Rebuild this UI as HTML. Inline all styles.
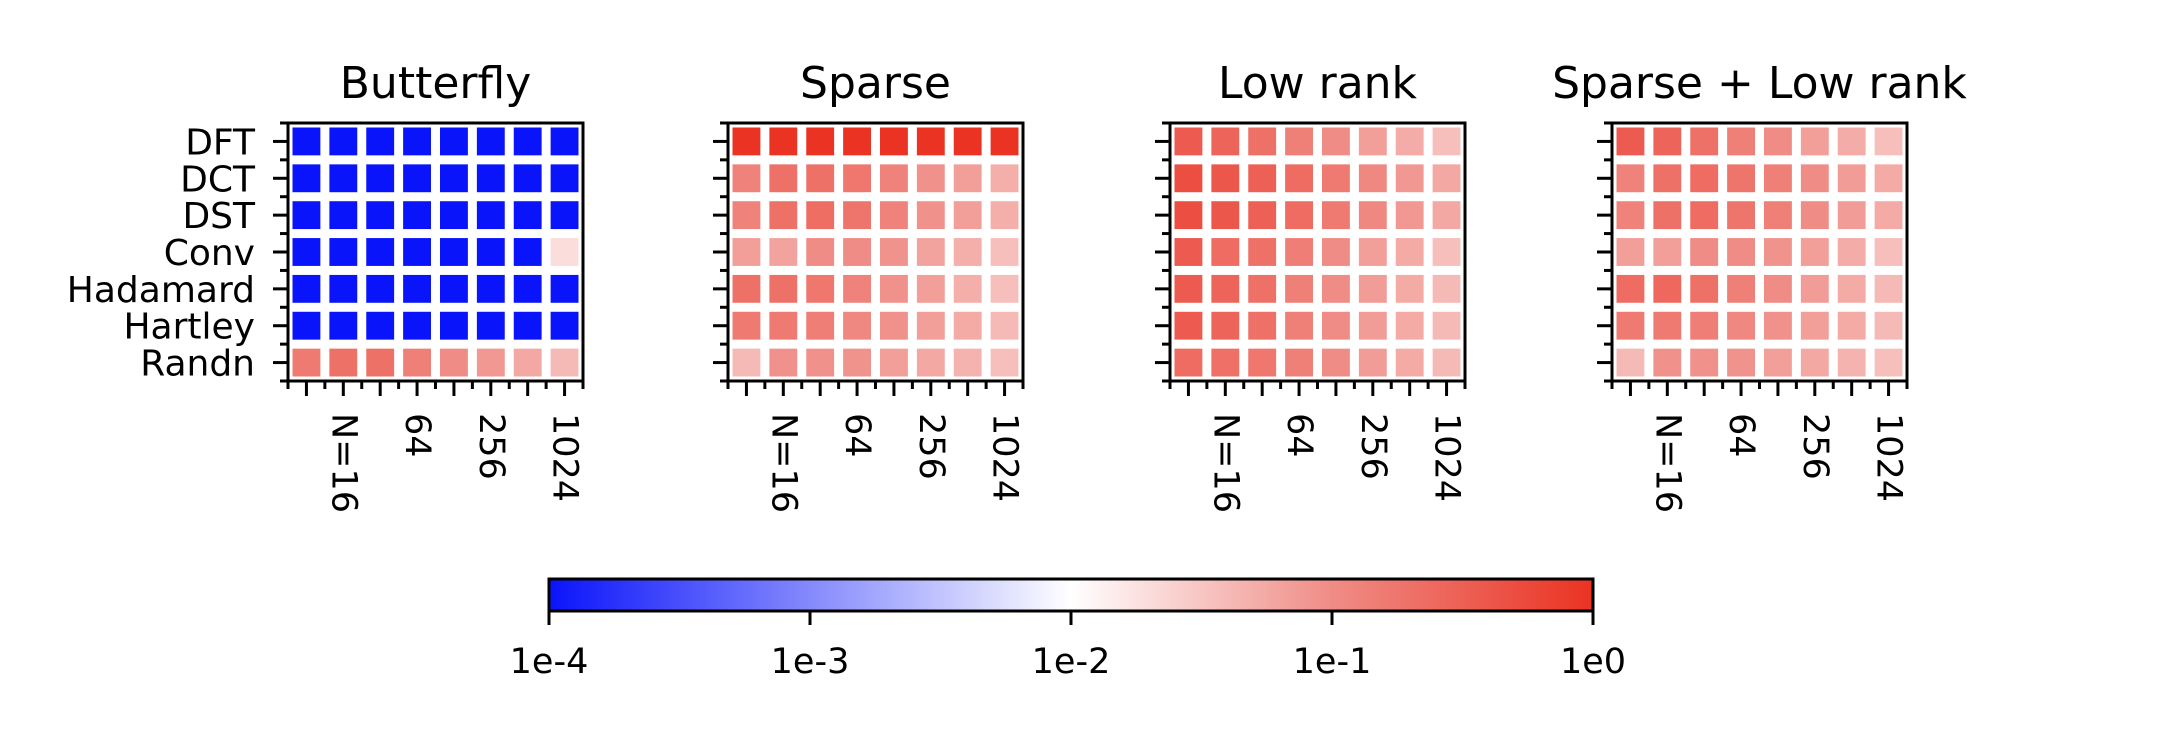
<!DOCTYPE html>
<html><head><meta charset="utf-8"><style>
html,body{margin:0;padding:0;background:#fff;}
svg{display:block;font-family:"DejaVu Sans","Liberation Sans",sans-serif;}
</style></head><body>
<svg id="fig" width="2158" height="748" viewBox="0 0 2158 748" xmlns="http://www.w3.org/2000/svg">
<defs>
<linearGradient id="cbgrad" x1="0" x2="1" y1="0" y2="0">
<stop offset="0" stop-color="rgb(10,20,250)"/>
<stop offset="0.5" stop-color="rgb(255,255,255)"/>
<stop offset="0.75" stop-color="rgb(240,140,134)"/>
<stop offset="1" stop-color="rgb(234,51,35)"/>
</linearGradient>
</defs>
</svg>
<script>
const panelTitles = ["Butterfly","Sparse","Low rank","Sparse + Low rank"];
const rowLabels = ["DFT","DCT","DST","Conv","Hadamard","Hartley","Randn"];
const sizes = [8,16,32,64,128,256,512,1024];
const xTickLabels = ["","N=16","","64","","256","","1024"];
const cbTickLabels = ["1e-4","1e-3","1e-2","1e-1","1e0"];
const cbTickValues = [-4,-3,-2,-1,0];
// log10 error values
const butterflyVals = [
[-4,-4,-4,-4,-4,-4,-4,-4],
[-4,-4,-4,-4,-4,-4,-4,-4],
[-4,-4,-4,-4,-4,-4,-4,-4],
[-4,-4,-4,-4,-4,-4,-4,-1.7],
[-4,-4,-4,-4,-4,-4,-4,-4],
[-4,-4,-4,-4,-4,-4,-4,-4],
[-0.8,-0.7,-0.7,-0.86,-1,-1.1,-1.24,-1.4]];
const sparseVals = [
[0,0,0,0,0,0,0,0],
[-0.9,-0.7,-0.7,-0.76,-0.9,-1.04,-1.16,-1.3],
[-0.9,-0.7,-0.66,-0.74,-0.9,-1.04,-1.16,-1.3],
[-1.16,-1.2,-1,-1,-1.06,-1.2,-1.3,-1.44],
[-0.7,-0.7,-0.76,-0.9,-1.04,-1.16,-1.3,-1.44],
[-0.8,-0.8,-0.84,-0.96,-1.04,-1.16,-1.26,-1.4],
[-1.4,-1.04,-1.04,-1.06,-1.16,-1.24,-1.34,-1.44]];
const lowRankVals = [
[-0.44,-0.56,-0.7,-0.86,-1,-1.16,-1.28,-1.44],
[-0.3,-0.4,-0.5,-0.64,-0.8,-0.96,-1.1,-1.24],
[-0.3,-0.4,-0.5,-0.64,-0.8,-0.96,-1.1,-1.24],
[-0.44,-0.64,-0.7,-0.84,-1,-1.16,-1.26,-1.44],
[-0.44,-0.56,-0.7,-0.86,-1,-1.14,-1.26,-1.4],
[-0.44,-0.56,-0.7,-0.86,-1,-1.14,-1.26,-1.4],
[-0.64,-0.68,-0.76,-0.86,-1,-1.14,-1.26,-1.4]];
const sparseLowRankVals = [
[-0.44,-0.56,-0.7,-0.86,-1,-1.16,-1.28,-1.44],
[-0.9,-0.7,-0.64,-0.74,-0.86,-1,-1.14,-1.26],
[-0.9,-0.7,-0.64,-0.74,-0.86,-1,-1.14,-1.26],
[-1.16,-1.16,-1,-1,-1.06,-1.16,-1.28,-1.44],
[-0.64,-0.6,-0.7,-0.86,-1,-1.14,-1.26,-1.4],
[-0.8,-0.8,-0.84,-0.96,-1.04,-1.16,-1.26,-1.4],
[-1.4,-1.04,-1.04,-1.06,-1.16,-1.24,-1.34,-1.44]];
const panelVals = [butterflyVals, sparseVals, lowRankVals, sparseLowRankVals];

const NS = "http://www.w3.org/2000/svg";
const svg = document.getElementById("fig");
const axLefts = [288,728,1170,1612];
const axTop = 123, axW = 295, axH = 258;
function mk(tag, attrs, parent){ const e=document.createElementNS(NS,tag); for(const k in attrs) e.setAttribute(k,attrs[k]); (parent||svg).appendChild(e); return e; }
const stops=[[0,[10,20,250]],[0.5,[255,255,255]],[0.75,[240,140,134]],[1,[234,51,35]]];
function color(v){
  let t=(Math.max(-4,Math.min(0,v))+4)/4;
  let k=0; while(k<stops.length-2 && t>stops[k+1][0]) k++;
  const a=stops[k][1], b=stops[k+1][1];
  const u=(t-stops[k][0])/(stops[k+1][0]-stops[k][0]);
  return "rgb("+a.map((c,i)=>Math.round(c+(b[i]-c)*u)).join(",")+")";
}
panelVals.forEach((vals,p)=>{
  const L=axLefts[p];
  const g=mk("g",{});
  
  
  const nC=sizes.length, nR=rowLabels.length;
  const cw=axW/nC, rh=axH/nR;
  const xS=i=>L+i*cw, yS=j=>axTop+j*rh;
  const t=mk("text",{x:L+axW/2,y:98,"text-anchor":"middle","font-size":44,fill:"#000"},g);
  t.textContent=panelTitles[p];
  
  
  vals.forEach((row,j)=>row.forEach((v,i)=>{
    const r=mk("rect",{x:xS(i)+4.5,y:yS(j)+4.5,width:cw-9,height:rh-9,fill:color(v)},g);
    
    
  }));
  for(let j=0;j<=nR;j++){ mk("line",{x1:L-8,x2:L,y1:yS(j),y2:yS(j),stroke:"#000","stroke-width":3},g); }
  rowLabels.forEach((lab,j)=>{
    mk("line",{x1:L-15,x2:L,y1:yS(j)+rh/2,y2:yS(j)+rh/2,stroke:"#000","stroke-width":3},g);
    if(p===0){
      const tl=mk("text",{x:255,y:yS(j)+rh/2+13,"text-anchor":"end","font-size":36,fill:"#000"},g);
      tl.textContent=lab;
      
      
    }
  });
  for(let i=0;i<=nC;i++){ mk("line",{x1:xS(i),x2:xS(i),y1:axTop+axH,y2:axTop+axH+8,stroke:"#000","stroke-width":3},g); }
  xTickLabels.forEach((lab,i)=>{
    const cx=xS(i)+cw/2;
    mk("line",{x1:cx,x2:cx,y1:axTop+axH,y2:axTop+axH+15,stroke:"#000","stroke-width":3},g);
    if(lab){
      const tl=mk("text",{x:0,y:0,"font-size":35,fill:"#000","dominant-baseline":"central",transform:"translate("+cx+",413) rotate(90)"},g);
      tl.textContent=lab;
      
      
    }
  });
  mk("rect",{x:L,y:axTop,width:axW,height:axH,fill:"none",stroke:"#000","stroke-width":3},g);
});
const cbL=549, cbR=1593, cbT=579, cbB=611;
const cb=mk("g",{});


mk("rect",{x:cbL,y:cbT,width:cbR-cbL,height:cbB-cbT,fill:"url(#cbgrad)",stroke:"#000","stroke-width":3},cb);
const cbX=v=>cbL+(v+4)/4*(cbR-cbL);
cbTickValues.forEach((v,i)=>{
  mk("line",{x1:cbX(v),x2:cbX(v),y1:cbB,y2:cbB+14,stroke:"#000","stroke-width":3},cb);
  const tl=mk("text",{x:cbX(v),y:673,"text-anchor":"middle","font-size":35,fill:"#000"},cb);
  tl.textContent=cbTickLabels[i];
  
  
});
</script>
</body></html>
